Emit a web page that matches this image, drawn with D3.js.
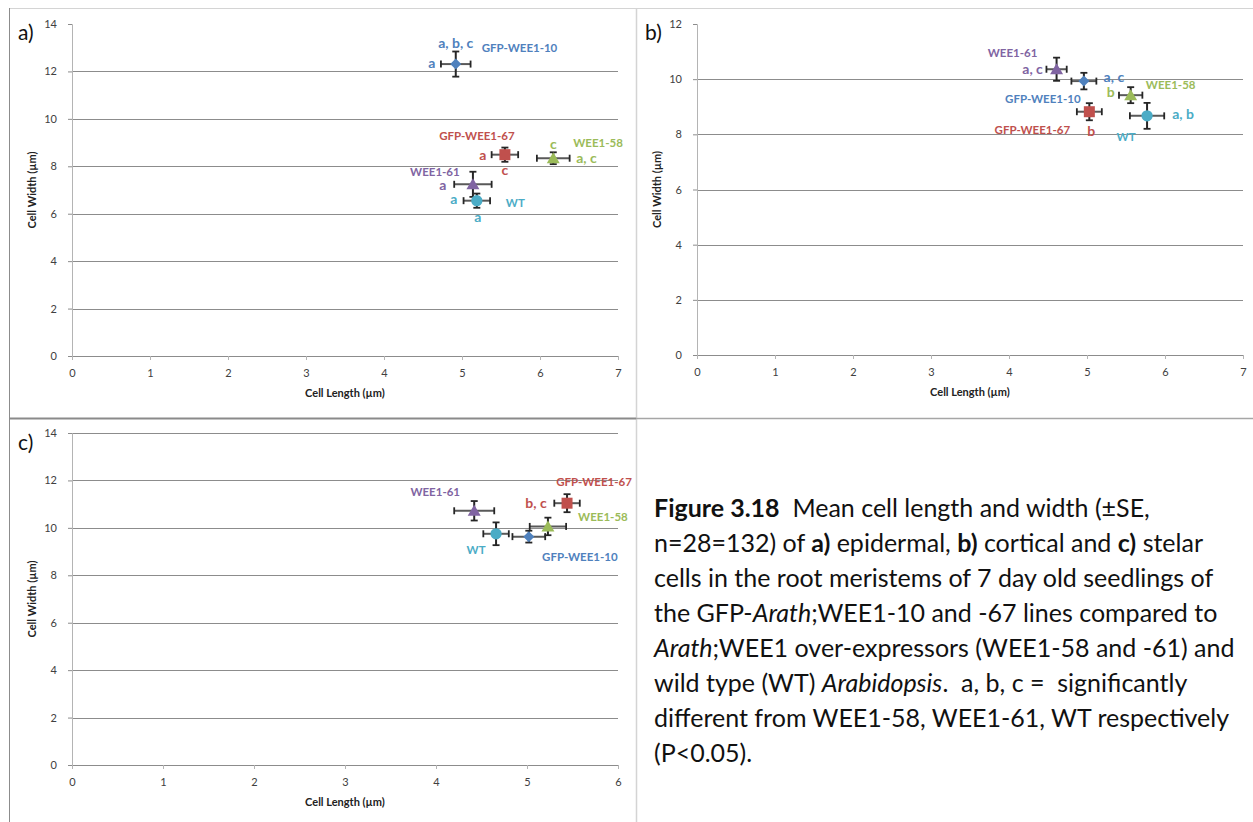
<!DOCTYPE html>
<html><head><meta charset="utf-8">
<script src="https://cdn.jsdelivr.net/npm/d3@7/dist/d3.min.js"></script>
<style>
html,body{margin:0;padding:0;background:#fff;}
svg{display:block;font-family:Lato,"Open Sans",sans-serif;}
</style></head>
<body>
<svg id="chart" width="1253" height="822"></svg>
<script>
// ---------- DATA ----------
const seriesNames = ["GFP-WEE1-10", "GFP-WEE1-67", "WEE1-58", "WEE1-61", "WT"];
const seriesColors = ["#4F81BD", "#C0504D", "#9BBB59", "#8064A2", "#4BACC6"];
const seriesShapes = ["diamond", "square", "triangle", "triangle", "circle"];

// panel a) epidermal
const aLength   = [4.92, 5.55, 6.17, 5.14, 5.19];
const aLengthSE = [0.19, 0.17, 0.21, 0.24, 0.17];
const aWidth    = [12.31, 8.49, 8.34, 7.24, 6.55];
const aWidthSE  = [0.53, 0.30, 0.25, 0.53, 0.30];
// panel b) cortical
const bLength   = [4.96, 5.03, 5.56, 4.61, 5.77];
const bLengthSE = [0.16, 0.16, 0.15, 0.13, 0.22];
const bWidth    = [9.93, 8.82, 9.42, 10.36, 8.67];
const bWidthSE  = [0.30, 0.31, 0.29, 0.42, 0.47];
// panel c) stelar
const cLength   = [5.02, 5.44, 5.23, 4.42, 4.66];
const cLengthSE = [0.18, 0.14, 0.20, 0.22, 0.14];
const cWidth    = [9.63, 11.04, 10.06, 10.72, 9.75];
const cWidthSE  = [0.25, 0.38, 0.37, 0.41, 0.48];

// tick labels
const xTicksAB = [0, 1, 2, 3, 4, 5, 6, 7];
const xTicksC  = [0, 1, 2, 3, 4, 5, 6];
const yTicksAC = [0, 2, 4, 6, 8, 10, 12, 14];
const yTicksB  = [0, 2, 4, 6, 8, 10, 12];

// significance letters [series index, text]
const aLetters = [[0, "a, b, c"], [0, "a"], [1, "a"], [1, "c"], [2, "c"], [2, "a, c"], [3, "a"], [4, "a"], [4, "a"]];
const bLetters = [[3, "a, c"], [0, "a, c"], [2, "b"], [1, "b"], [4, "a, b"]];
const cLetters = [[1, "b, c"]];

const xTitle = "Cell Length (\u00b5m)";
const yTitle = "Cell Width (\u00b5m)";

// ---------- LAYOUT (pixel offsets of labels relative to their marker) ----------
const aNameOff   = [[26,-16,"start"],[-28,-19,"middle"],[20,-15,"start"],[-38,-12,"middle"],[29,2,"start"]];
const aLetterOff = [[0,-21,"middle"],[-24,-1,"middle"],[-22,0,"middle"],[0,15,"middle"],[0,-14,"middle"],[23,0,"start"],[-30,1,"middle"],[-23,-2,"middle"],[1,16,"middle"]];
const bNameOff   = [[-41,18,"middle"],[-57,18,"middle"],[40,-10,"middle"],[-44,-16,"middle"],[-21,21,"middle"]];
const bLetterOff = [[-24,0,"middle"],[30,-4,"middle"],[-20,-3,"middle"],[2,19,"middle"],[36,-2,"middle"]];
const cNameOff   = [[51,20,"middle"],[27,-21,"middle"],[55,-9,"middle"],[-39,-19,"middle"],[-20,16,"middle"]];
const cLetterOff = [[-31,0,"middle"]];

const svg = d3.select("#chart");
svg.append("rect").attr("width",1253).attr("height",822).attr("fill","#fff");

// frame lines
const frame = svg.append("g");
frame.append("line").attr("x1",9).attr("x2",1253).attr("y1",8.5).attr("y2",8.5).attr("stroke","#d4d4d4");
frame.append("line").attr("x1",9.5).attr("x2",9.5).attr("y1",8).attr("y2",822).attr("stroke","#8c8c8c");
frame.append("line").attr("x1",636.5).attr("x2",636.5).attr("y1",8).attr("y2",822).attr("stroke","#d4d4d4").attr("stroke-width",1.5);
frame.append("line").attr("x1",9).attr("x2",636).attr("y1",418.5).attr("y2",418.5).attr("stroke","#8a8a8a").attr("stroke-width",2);
frame.append("line").attr("x1",636).attr("x2",1253).attr("y1",418.5).attr("y2",418.5).attr("stroke","#a6a6a6").attr("stroke-width",1.5);

function markerPath(shape){
  if(shape==="diamond") return "M0,-5.5L5.5,0L0,5.5L-5.5,0Z";
  if(shape==="square") return "M-5.5,-5.5H5.5V5.5H-5.5Z";
  if(shape==="triangle") return "M0,-6L6.5,5H-6.5Z";
  return d3.symbol().type(d3.symbolCircle).size(100)();
}

function drawPanel(p){
  const g = svg.append("g");
  const x = d3.scaleLinear().domain([0, d3.max(p.xTicks)]).range([p.left, p.right]);
  const y = d3.scaleLinear().domain([0, d3.max(p.yTicks)]).range([p.bottom, p.top]);

  // gridlines
  const gridVals = p.yTicks.filter(v => v > 0 && (p.gridTop || v < d3.max(p.yTicks)));
  g.append("g").selectAll("line").data(gridVals).join("line")
    .attr("x1", p.left).attr("x2", p.right)
    .attr("y1", d => Math.round(y(d))+0.5).attr("y2", d => Math.round(y(d))+0.5)
    .attr("stroke", "#8c8c8c").attr("stroke-width", 1);

  // y axis
  const ya = g.append("g").attr("transform", `translate(${p.left},0)`)
    .call(d3.axisLeft(y).tickValues(p.yTicks).tickSize(4).tickPadding(11).tickFormat(d3.format("d")));
  ya.select(".domain").attr("stroke", "#b4b4b4");
  ya.selectAll(".tick line").attr("stroke", "#8c8c8c");
  ya.selectAll("text").attr("font-size", 11).attr("fill", "#404040").attr("font-family", "Lato, sans-serif");

  // x axis
  const xa = g.append("g").attr("transform", `translate(0,${p.bottom})`)
    .call(d3.axisBottom(x).tickValues(p.xTicks).tickSize(4).tickPadding(9).tickFormat(d3.format("d")));
  xa.select(".domain").attr("stroke", "#8c8c8c");
  xa.selectAll(".tick line").attr("stroke", "#b4b4b4");
  xa.selectAll("text").attr("font-size", 11).attr("fill", "#404040").attr("font-family", "Lato, sans-serif");

  // titles
  g.append("text").attr("x", p.xTitleX).attr("y", p.bottom + 41).attr("text-anchor", "middle")
    .attr("font-size", 11).attr("font-weight", "bold").attr("fill", "#222").text(xTitle);
  g.append("text").attr("transform", `translate(${p.left-36},${(p.top+p.bottom)/2}) rotate(-90)`)
    .attr("text-anchor", "middle").attr("font-size", 11).attr("font-weight", "bold").attr("fill", "#222").text(yTitle);
  g.append("text").attr("x", p.tagX).attr("y", p.tagY).attr("font-size", 21).attr("fill", "#111").text(p.tag);

  const pts = p.len.map((v, i) => ({i, x: v, xe: p.lenSE[i], y: p.wid[i], ye: p.widSE[i]}));
  const cap = 3.5;
  const eb = g.append("g");
  // horizontal error bars
  pts.forEach(d => {
    const cy = y(d.y), xl = x(d.x - d.xe), xr = x(d.x + d.xe);
    eb.append("line").attr("x1", xl).attr("x2", xr).attr("y1", cy).attr("y2", cy).attr("stroke", "#595959").attr("stroke-width", 2);
    [xl, xr].forEach(xx => eb.append("line").attr("x1", xx).attr("x2", xx).attr("y1", cy-cap).attr("y2", cy+cap).attr("stroke", "#262626").attr("stroke-width", 1.8));
  });
  // vertical error bars
  pts.forEach(d => {
    const cx = x(d.x), yt = y(d.y + d.ye), yb = y(d.y - d.ye);
    eb.append("line").attr("x1", cx).attr("x2", cx).attr("y1", yt).attr("y2", yb).attr("stroke", "#262626").attr("stroke-width", 2);
    [yt, yb].forEach(yy => eb.append("line").attr("x1", cx-cap).attr("x2", cx+cap).attr("y1", yy).attr("y2", yy).attr("stroke", "#262626").attr("stroke-width", 1.8));
  });
  // markers
  g.append("g").selectAll("path").data(pts).join("path")
    .attr("d", d => markerPath(seriesShapes[d.i]))
    .attr("transform", d => `translate(${x(d.x)},${y(d.y)})`)
    .attr("fill", d => seriesColors[d.i]);

  // series name labels
  pts.forEach(d => {
    const o = p.nameOff[d.i];
    g.append("text").attr("x", x(d.x) + o[0]).attr("y", y(d.y) + o[1]).attr("dy", "0.35em")
      .attr("text-anchor", o[2]).attr("font-size", 11.5).attr("font-weight", "bold")
      .attr("fill", seriesColors[d.i]).text(seriesNames[d.i]);
  });
  // significance letters
  p.letters.forEach((l, k) => {
    const d = pts[l[0]], o = p.letterOff[k];
    g.append("text").attr("x", x(d.x) + o[0]).attr("y", y(d.y) + o[1]).attr("dy", "0.35em")
      .attr("text-anchor", o[2]).attr("font-size", 14).attr("font-weight", "bold")
      .attr("fill", seriesColors[l[0]]).text(l[1]);
  });
}

drawPanel({tag:"a)", tagX:18, tagY:40, left:72, right:618, top:24, bottom:356, xTicks:xTicksAB, yTicks:yTicksAC, gridTop:false,
  len:aLength, lenSE:aLengthSE, wid:aWidth, widSE:aWidthSE, letters:aLetters, nameOff:aNameOff, letterOff:aLetterOff, xTitleX:345});
drawPanel({tag:"b)", tagX:645, tagY:40, left:697, right:1243, top:24, bottom:355, xTicks:xTicksAB, yTicks:yTicksB, gridTop:false,
  len:bLength, lenSE:bLengthSE, wid:bWidth, widSE:bWidthSE, letters:bLetters, nameOff:bNameOff, letterOff:bLetterOff, xTitleX:970});
drawPanel({tag:"c)", tagX:18, tagY:450, left:72, right:618, top:433, bottom:765, xTicks:xTicksC, yTicks:yTicksAC, gridTop:true,
  len:cLength, lenSE:cLengthSE, wid:cWidth, widSE:cWidthSE, letters:cLetters, nameOff:cNameOff, letterOff:cLetterOff, xTitleX:345});

// ---------- CAPTION ----------
const NB = "\u00a0";
const captionLines = [
  [["Figure 3.18", "b"], [NB + NB + "Mean cell length and width (\u00b1SE,", ""]],
  [["n=28=132) of ", ""], ["a)", "b"], [" epidermal, ", ""], ["b)", "b"], [" cortical and ", ""], ["c)", "b"], [" stelar", ""]],
  [["cells in the root meristems of 7 day old seedlings of", ""]],
  [["the GFP-", ""], ["Arath", "i"], [";WEE1-10 and -67 lines compared to", ""]],
  [["Arath", "i"], [";WEE1 over-expressors (WEE1-58 and -61) and", ""]],
  [["wild type (WT) ", ""], ["Arabidopsis", "i"], ["." + NB + NB + "a, b, c =" + NB + NB + "significantly", ""]],
  [["different from WEE1-58, WEE1-61, WT respectively", ""]],
  [["(P<0.05).", ""]]
];
const cap = svg.append("g").attr("font-size", 25).attr("fill", "#111");
captionLines.forEach((line, i) => {
  const t = cap.append("text").attr("x", 654).attr("y", 517 + i * 35);
  line.forEach(seg => {
    const ts = t.append("tspan").text(seg[0]);
    if (seg[1] === "b") ts.attr("font-weight", "bold");
    if (seg[1] === "i") ts.attr("font-style", "italic");
  });
});
</script>
</body></html>
